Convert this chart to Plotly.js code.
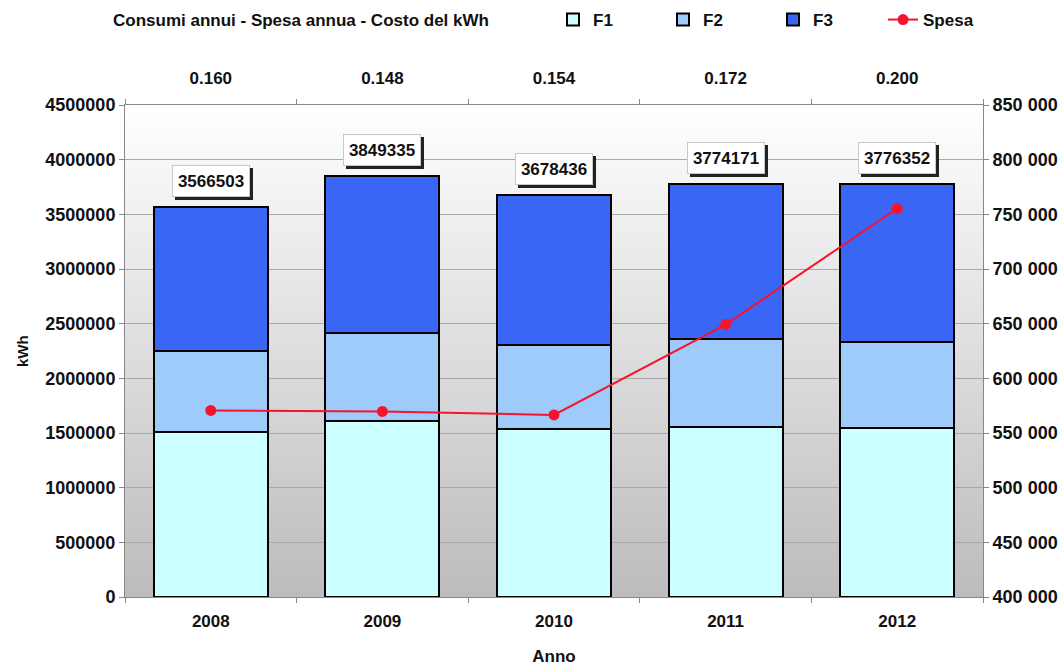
<!DOCTYPE html>
<html>
<head>
<meta charset="utf-8">
<script src="https://cdn.plot.ly/plotly-3.0.1.min.js"></script>
<style>html,body{margin:0;padding:0;background:#fff;}#chart{width:1061px;height:666px;}</style>
</head>
<body>
<div id="chart"></div>
<script>
// ---- data ----
const years = ["2008", "2009", "2010", "2011", "2012"];
const f1 = [1507000, 1610000, 1537000, 1558000, 1549000];
const f2 = [746000, 802000, 771000, 805000, 786000];
const f3 = [1313503, 1437335, 1370436, 1411171, 1441352];
const totals = [3566503, 3849335, 3678436, 3774171, 3776352];
const spesa = [570600, 569700, 566500, 649200, 755300];
const costoKwh = ["0.160", "0.148", "0.154", "0.172", "0.200"];

const FONT = "Liberation Sans, Arial, sans-serif";
const fnt = (s) => ({family: FONT, size: s, color: "#111", weight: "bold"});

const barLine = {color: "#000", width: 2};
const traces = [
  {type: "bar", name: "F1", x: years, y: f1, marker: {color: "#ccffff", line: barLine}, width: 0.665},
  {type: "bar", name: "F2", x: years, y: f2, marker: {color: "#9ecbfa", line: barLine}, width: 0.665},
  {type: "bar", name: "F3", x: years, y: f3, marker: {color: "#3a66f6", line: barLine}, width: 0.665},
  {type: "scatter", mode: "lines+markers", name: "Spesa", x: years, y: spesa, yaxis: "y2",
   line: {color: "#f5142d", width: 2}, marker: {color: "#f5142d", size: 11}},
  {type: "scatter", mode: "markers", x: costoKwh, y: spesa, xaxis: "x2", yaxis: "y2",
   marker: {opacity: 0}, showlegend: false, hoverinfo: "skip"}
];

const annotations = [];
for (let i = 0; i < years.length; i++) {
  // shadow box (no text)
  annotations.push({x: i, y: totals[i], xref: "x", yref: "y", text: "\u00a0",
    showarrow: false, yanchor: "bottom", xshift: 3, yshift: 7, width: 66, height: 20,
    bgcolor: "#222", bordercolor: "#222", borderwidth: 1, borderpad: 5,
    font: {family: FONT, size: 17, color: "#222"}});
  annotations.push({x: i, y: totals[i], xref: "x", yref: "y", text: String(totals[i]),
    showarrow: false, yanchor: "bottom", yshift: 10, width: 66, height: 20,
    bgcolor: "#fff", bordercolor: "#c8c8c8", borderwidth: 1, borderpad: 5,
    font: {family: FONT, size: 17, color: "#111"}});
}
annotations.push({text: "kWh", xref: "paper", yref: "paper", x: -103 / 858, y: 0.5, textangle: -90,
  showarrow: false, xanchor: "center", yanchor: "middle", font: fnt(15)});

const gradSvg = "<svg xmlns='http://www.w3.org/2000/svg' width='100' height='100' viewBox='0 0 100 100' preserveAspectRatio='none'>" +
  "<defs><linearGradient id='g' x1='0' y1='0' x2='0' y2='1'><stop offset='0' stop-color='#ffffff'/>" +
  "<stop offset='1' stop-color='#bcbcbc'/></linearGradient></defs><rect width='100' height='100' fill='url(#g)'/></svg>";

const layout = {
  width: 1061, height: 666,
  margin: {l: 125, r: 78, t: 105, b: 69},
  paper_bgcolor: "#fff", plot_bgcolor: "rgba(0,0,0,0)",
  barmode: "stack",
  separators: ". ",
  font: fnt(17),
  title: {text: "Consumi annui - Spesa annua - Costo del kWh", x: 113 / 1061, xref: "container", xanchor: "left",
          y: 1 - 20 / 666, yref: "container", yanchor: "middle", font: fnt(17)},
  showlegend: true,
  legend: {orientation: "h", xref: "container", yref: "container", x: 553 / 1061, xanchor: "left",
           y: 1 - 20 / 666, yanchor: "middle", traceorder: "normal", font: fnt(17), entrywidth: 65,
           bgcolor: "rgba(0,0,0,0)"},
  xaxis: {type: "category", showline: true, linecolor: "#888", linewidth: 1, ticks: "outside", tickson: "boundaries",
          ticklen: 5, tickcolor: "#888", tickfont: fnt(17), showgrid: false, range: [-0.5, 4.5],
          ticklabelstandoff: 9, title: {text: "Anno", font: fnt(17), standoff: 20}},
  xaxis2: {type: "category", overlaying: "x", side: "top", showline: true, linecolor: "#888", ticks: "outside",
           tickson: "boundaries", ticklen: 5, tickcolor: "#888", tickfont: fnt(17), showgrid: false, range: [-0.5, 4.5],
           ticklabelstandoff: 13},
  yaxis: {range: [0, 4500000], dtick: 500000, tickformat: "d", showline: true, linecolor: "#888", ticks: "outside",
          ticklen: 5, tickcolor: "#888", gridcolor: "#a8a8a8", gridwidth: 1, zeroline: false, tickfont: fnt(18)},
  yaxis2: {range: [400000, 850000], dtick: 50000, tickformat: ",d", overlaying: "y", side: "right", showline: true,
           linecolor: "#888", ticks: "outside", ticklen: 5, tickcolor: "#888", showgrid: false, zeroline: false,
           tickfont: fnt(18)},
  images: [{source: "data:image/svg+xml;base64," + btoa(gradSvg), xref: "paper", yref: "paper", x: 0, y: 1,
            sizex: 1, sizey: 1, xanchor: "left", yanchor: "top", sizing: "stretch", layer: "below"}],
  annotations: annotations
};

Plotly.newPlot("chart", traces, layout, {displayModeBar: false, staticPlot: true});
</script>
</body>
</html>
